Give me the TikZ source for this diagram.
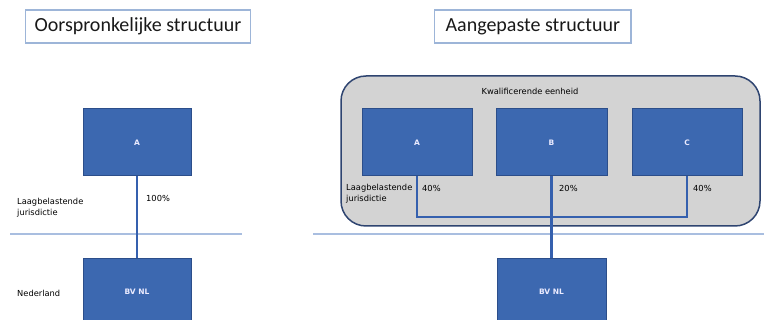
\documentclass[tikz,border=0pt]{standalone}
\usepackage{fontspec}
\setmainfont{Carlito}
\newfontfamily\labelfont{DejaVu Sans}
\definecolor{boxblue}{HTML}{3C68B0}
\definecolor{boxedge}{HTML}{2C4E8A}
\definecolor{linkblue}{HTML}{3560AE}
\definecolor{splitblue}{HTML}{A9BEE0}
\definecolor{titleedge}{HTML}{9DB5D8}
\definecolor{unitgray}{HTML}{D3D3D3}
\definecolor{unitedge}{HTML}{2E4470}
\tikzset{
  title/.style={draw=titleedge, line width=1.2pt, inner xsep=9pt, inner ysep=5pt,
    minimum height=33pt, font=\fontsize{20}{24}\selectfont, text=black!90},
  entity/.style={draw=boxedge, fill=boxblue, line width=1pt, minimum width=108pt,
    minimum height=67pt, text=white!92!blue, font=\labelfont\bfseries\fontsize{7.5}{9}\selectfont},
  tag/.style={font=\labelfont\fontsize{8.3}{10.5}\selectfont, text=black, inner sep=0pt},
  share/.style={draw=linkblue, line width=2.2pt},
  split/.style={draw=splitblue, line width=1.2pt}
}
\begin{document}
\begin{tikzpicture}[x=1pt, y=-1pt]
  \useasboundingbox (0, 0) rectangle (764, 320);
  \clip (0, 0) rectangle (764, 320);

  % Original structure
  \node [title, anchor=west] (titleL) at (25, 26.5) {Oorspronkelijke structuur};
  \draw [split] (10, 234) -- (242, 234);
  \node [entity] (aL) at (137, 142.5) {A};
  \node [entity, anchor=north] (bvL) at (137, 258) {BV NL};
  \draw [share] (aL.south) -- (bvL.north);
  \node [tag, anchor=west] (pctL) at (146, 198) {100\%};
  \node [tag, anchor=north west, align=left] (lowL) at (17, 198) {Laagbelastende\\jurisdictie};
  \node [tag, anchor=west] (nlL) at (17, 293) {Nederland};

  % Adjusted structure
  \node [title, anchor=west, inner xsep=11pt] (titleR) at (434, 26.5) {Aangepaste structuur};
  \draw [split] (313, 234) -- (764, 234);
  \draw [fill=unitgray, draw=unitedge, line width=1.5pt, rounded corners=25pt]
        (341, 76) rectangle (760, 226);
  \node [tag] (unit) at (530, 91) {Kwalificerende eenheid};
  \node [entity, minimum width=110pt] (aR) at (417, 142.5) {A};
  \node [entity, minimum width=111pt] (bR) at (551.5, 142.5) {B};
  \node [entity, minimum width=110pt] (cR) at (687, 142.5) {C};
  \node [entity, anchor=north, minimum width=109pt] (bvR) at (551.5, 258) {BV NL};
  \node [tag, anchor=north west, align=left] (lowR) at (346, 184) {Laagbelastende\\jurisdictie};

  % Shares
  \coordinate (joinA) at (aR.south |- 0, 217);
  \coordinate (joinC) at (cR.south |- 0, 217);
  \draw [share] (aR.south) -- (joinA) -- (joinC) -- (cR.south);
  \draw [share] (bR.south) -- (bvR.north);
  \node [tag, anchor=west] (pctA) at (422, 188) {40\%};
  \node [tag, anchor=west] (pctB) at (559, 188) {20\%};
  \node [tag, anchor=west] (pctC) at (693, 188) {40\%};
\end{tikzpicture}
\end{document}
